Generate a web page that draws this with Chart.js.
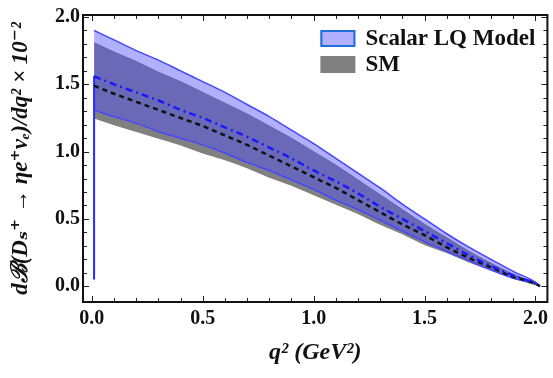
<!DOCTYPE html>
<html>
<head>
<meta charset="utf-8">
<script src="https://cdn.jsdelivr.net/npm/chart.js@4.4.1/dist/chart.umd.min.js"></script>
<style>
  html, body { margin: 0; padding: 0; background: #fff; }
</style>
</head>
<body>
<canvas id="chart" width="553" height="378"></canvas>
<script>
// q^2 grid (GeV^2) and curves (x 10^-2)
const q2      = [0.01, 0.1, 0.2, 0.3, 0.4, 0.5, 0.6, 0.7, 0.8, 0.9, 1.0, 1.1, 1.2, 1.3, 1.4, 1.5, 1.6, 1.7, 1.8, 1.9, 2.0, 2.02];
const lqUpper = [1.90, 1.83, 1.75, 1.68, 1.60, 1.52, 1.44, 1.35, 1.26, 1.16, 1.06, 0.95, 0.84, 0.73, 0.61, 0.50, 0.39, 0.29, 0.20, 0.11, 0.03, 0];
const lqLower = [1.31, 1.26, 1.21, 1.15, 1.10, 1.05, 0.99, 0.92, 0.86, 0.79, 0.72, 0.64, 0.57, 0.49, 0.41, 0.33, 0.26, 0.19, 0.12, 0.06, 0.02, 0];
const lqMid   = [1.56, 1.50, 1.44, 1.38, 1.31, 1.25, 1.18, 1.11, 1.03, 0.95, 0.86, 0.78, 0.69, 0.59, 0.50, 0.41, 0.32, 0.23, 0.15, 0.08, 0.02, 0];
const smUpper = [1.81, 1.74, 1.67, 1.59, 1.52, 1.44, 1.36, 1.28, 1.19, 1.10, 1.00, 0.90, 0.79, 0.68, 0.57, 0.46, 0.36, 0.26, 0.17, 0.09, 0.02, 0];
const smLower = [1.25, 1.20, 1.15, 1.10, 1.05, 0.99, 0.94, 0.88, 0.81, 0.75, 0.68, 0.61, 0.54, 0.46, 0.39, 0.31, 0.25, 0.18, 0.12, 0.06, 0.01, 0];
const smMid   = [1.49, 1.43, 1.37, 1.31, 1.25, 1.19, 1.12, 1.05, 0.97, 0.89, 0.81, 0.73, 0.64, 0.55, 0.46, 0.38, 0.29, 0.21, 0.14, 0.07, 0.02, 0];
// thin vertical line at the lower end of q^2
const edgeQ2 = [0.01, 0.01];
const edgeY  = [0.05, 1.56];

// axis ticks: every 0.1, labelled every 0.5
const xTicks = [];
const yTicks = [];
for (let k = 0; k <= 20; k++) { xTicks.push(k / 10); yTicks.push(k / 10); }

const legendNames = ['Scalar LQ Model', 'SM'];

const serif = '"Liberation Serif", "DejaVu Serif", serif';
const pts = (xs, ys) => xs.map((x, i) => ({x: x, y: ys[i]}));
const isHalf = v => Math.abs(v * 2 - Math.round(v * 2)) < 1e-6;

// frame with inward ticks on all four sides (Mathematica style)
const frameTicks = {
  id: 'frameTicks',
  afterDraw(chart) {
    const {ctx, chartArea: a} = chart;
    const x = chart.scales.x, y = chart.scales.y;
    ctx.save();
    ctx.strokeStyle = '#222';
    ctx.lineWidth = 1;
    ctx.beginPath();
    xTicks.forEach(v => {
      const px = Math.round(x.getPixelForValue(v)) + 0.5;
      const len = isHalf(v) ? 6 : 4;
      ctx.moveTo(px, a.bottom); ctx.lineTo(px, a.bottom - len);
      ctx.moveTo(px, a.top); ctx.lineTo(px, a.top + len);
    });
    yTicks.forEach(v => {
      const py = Math.round(y.getPixelForValue(v)) + 0.5;
      const len = isHalf(v) ? 6 : 4;
      ctx.moveTo(a.left, py); ctx.lineTo(a.left + len, py);
      ctx.moveTo(a.right, py); ctx.lineTo(a.right - len, py);
    });
    ctx.stroke();
    ctx.lineWidth = 2;
    ctx.strokeStyle = '#111';
    ctx.strokeRect(a.left, a.top, a.right - a.left, a.bottom - a.top);
    ctx.restore();
  }
};

// legend boxes in the top right corner of the plot
const cornerLegend = {
  id: 'cornerLegend',
  afterDraw(chart) {
    const {ctx, chartArea: a} = chart;
    const items = chart.data.datasets.filter(d => legendNames.includes(d.label));
    ctx.save();
    ctx.font = 'bold 23px ' + serif;
    ctx.textBaseline = 'middle';
    items.forEach((d, i) => {
      const bx = a.right - 227, by = a.top + 15 + i * 26;
      ctx.fillStyle = '#fff';
      ctx.fillRect(bx, by, 35, 17);
      ctx.fillStyle = d.backgroundColor;
      ctx.fillRect(bx, by, 35, 17);
      if (d.legendBorder) {
        ctx.strokeStyle = d.legendBorder;
        ctx.lineWidth = 2;
        ctx.strokeRect(bx + 1, by + 1, 33, 15);
      }
      ctx.fillStyle = '#111';
      ctx.fillText(d.label, bx + 45, by + 9);
    });
    ctx.restore();
  }
};

new Chart(document.getElementById('chart'), {
  type: 'line',
  data: {
    datasets: [
      {
        label: 'Scalar LQ Model',
        data: pts(q2, lqUpper),
        borderColor: 'rgb(70,70,255)',
        borderWidth: 1.5,
        backgroundColor: 'rgba(75,75,255,0.44)',
        legendBorder: 'rgb(30,110,220)',
        fill: '+1',
        order: 1
      },
      {
        label: 'lq-lower',
        data: pts(q2, lqLower),
        borderColor: 'rgb(70,70,255)',
        borderWidth: 1.5,
        fill: false,
        order: 1
      },
      {
        label: 'SM',
        data: pts(q2, smUpper),
        borderColor: 'rgb(120,120,120)',
        borderWidth: 1,
        backgroundColor: 'rgb(128,128,128)',
        fill: '+1',
        order: 2
      },
      {
        label: 'sm-lower',
        data: pts(q2, smLower),
        borderColor: 'rgb(120,120,120)',
        borderWidth: 1,
        fill: false,
        order: 2
      },
      {
        label: 'lq-central',
        data: pts(q2, lqMid),
        borderColor: 'rgb(25,25,255)',
        borderWidth: 2.5,
        borderDash: [7, 4, 2, 4],
        fill: false,
        order: 0
      },
      {
        label: 'sm-central',
        data: pts(q2, smMid),
        borderColor: '#111',
        borderWidth: 2.5,
        borderDash: [5, 4],
        fill: false,
        order: 0
      },
      {
        label: 'edge',
        data: pts(edgeQ2, edgeY),
        borderColor: 'rgb(40,40,255)',
        borderWidth: 2,
        fill: false,
        order: 0
      }
    ]
  },
  options: {
    responsive: false,
    animation: false,
    elements: {
      point: { radius: 0 },
      line: { cubicInterpolationMode: 'monotone' }
    },
    layout: { padding: { top: 10, right: 3, left: 0, bottom: 0 } },
    plugins: {
      legend: { display: false },
      tooltip: { enabled: false }
    },
    scales: {
      x: {
        type: 'linear',
        min: -0.04,
        max: 2.054,
        grid: { display: false, drawTicks: false },
        border: { display: false },
        afterBuildTicks: s => { s.ticks = xTicks.map(v => ({value: v})); },
        ticks: {
          autoSkip: false,
          maxRotation: 0,
          padding: 5,
          color: '#111',
          font: { family: serif, size: 20, weight: 'bold' },
          callback: v => isHalf(v) ? v.toFixed(1) : ''
        },
        title: {
          display: true,
          text: 'q² (GeV²)',
          color: '#111',
          font: { family: serif, size: 24, weight: 'bold', style: 'italic' },
          padding: { top: 0, bottom: 11 }
        },
        afterFit: s => { s.height = 76; }
      },
      y: {
        type: 'linear',
        min: -0.117,
        max: 2.015,
        grid: { display: false, drawTicks: false },
        border: { display: false },
        afterBuildTicks: s => { s.ticks = yTicks.map(v => ({value: v})); },
        ticks: {
          autoSkip: false,
          padding: 3,
          color: '#111',
          font: { family: serif, size: 20, weight: 'bold' },
          callback: v => isHalf(v) ? v.toFixed(1) : ''
        },
        title: {
          display: true,
          text: 'dℬ(Dₛ⁺ → ηe⁺νₑ)/dq² × 10⁻²',
          color: '#111',
          font: { family: serif, size: 23, weight: 'bold', style: 'italic' },
          padding: { top: 7, bottom: 0 }
        },
        afterFit: s => { s.width = 83; }
      }
    }
  },
  plugins: [frameTicks, cornerLegend]
});
</script>
</body>
</html>
